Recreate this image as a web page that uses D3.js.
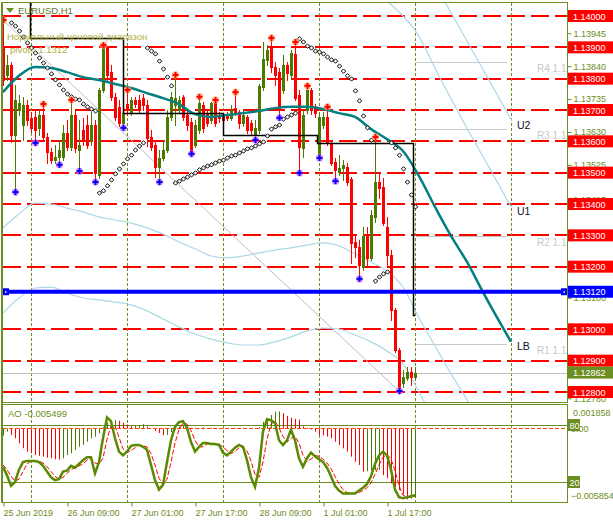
<!DOCTYPE html>
<html><head><meta charset="utf-8">
<script src="https://cdn.jsdelivr.net/npm/d3@7"></script>
<style>body{margin:0;background:#fff}svg{display:block}text{font-family:"Liberation Sans",Arial,sans-serif}</style>
</head><body><svg id="c" width="613" height="523"></svg>
<script>
// ---------- DATA ----------
const opens=[1.13898,1.13812,1.13844,1.13620,1.13700,1.13652,1.13716,1.13675,1.13678,1.13643,
1.13684,1.13614,1.13566,1.13540,1.13550,1.13550,1.13627,1.13582,1.13684,1.13572,
1.13636,1.13652,1.13604,1.13652,1.13493,1.13764,1.13898,1.13821,1.13742,1.13710,
1.13659,1.13719,1.13690,1.13732,1.13732,1.13738,1.13716,1.13614,1.13588,1.13518,
1.13547,1.13572,1.13678,1.13716,1.13700,1.13742,1.13684,1.13662,1.13588,1.13636,
1.13716,1.13690,1.13668,1.13726,1.13684,1.13684,1.13681,1.13675,1.13706,1.13694,
1.13659,1.13678,1.13659,1.13620,1.13636,1.13773,1.13860,1.13898,1.13837,1.13821,
1.13764,1.13844,1.13812,1.13879,1.13748,1.13579,1.13700,1.13764,1.13710,1.13556,
1.13652,1.13678,1.13595,1.13534,1.13502,1.13515,1.13518,1.13480,1.13279,1.13263,
1.13199,1.13301,1.13228,1.13359,1.13470,1.13454,1.13327,1.13237,1.13062,1.12934,
1.12829,1.12845,1.12864,1.12848];
const highs=[1.13987,1.13876,1.13853,1.13780,1.13748,1.13742,1.13732,1.13694,1.13700,1.13700,
1.13719,1.13627,1.13579,1.13588,1.13604,1.13652,1.13668,1.13732,1.13700,1.13668,
1.13675,1.13684,1.13694,1.13668,1.13770,1.13907,1.13904,1.13844,1.13754,1.13732,
1.13716,1.13764,1.13742,1.13742,1.13748,1.13751,1.13732,1.13636,1.13604,1.13572,
1.13604,1.13700,1.13757,1.13812,1.13745,1.13748,1.13700,1.13675,1.13668,1.13742,
1.13726,1.13700,1.13726,1.13732,1.13694,1.13690,1.13694,1.13716,1.13757,1.13700,
1.13700,1.13684,1.13668,1.13668,1.13783,1.13917,1.13907,1.13930,1.13853,1.13834,
1.13876,1.13853,1.13892,1.13917,1.13764,1.13700,1.13777,1.13770,1.13719,1.13694,
1.13694,1.13710,1.13604,1.13547,1.13556,1.13540,1.13531,1.13486,1.13301,1.13285,
1.13327,1.13327,1.13381,1.13614,1.13502,1.13483,1.13359,1.13253,1.13068,1.12941,
1.12870,1.12880,1.12880,1.12880];
const lows=[1.13780,1.13796,1.13598,1.13438,1.13684,1.13604,1.13652,1.13630,1.13595,1.13620,
1.13604,1.13531,1.13531,1.13531,1.13525,1.13540,1.13572,1.13572,1.13566,1.13505,
1.13588,1.13579,1.13588,1.13470,1.13483,1.13757,1.13796,1.13732,1.13668,1.13649,
1.13643,1.13684,1.13684,1.13710,1.13690,1.13700,1.13585,1.13572,1.13486,1.13470,
1.13540,1.13566,1.13668,1.13652,1.13690,1.13668,1.13636,1.13560,1.13582,1.13627,
1.13630,1.13649,1.13659,1.13649,1.13662,1.13659,1.13668,1.13668,1.13684,1.13643,
1.13649,1.13627,1.13620,1.13604,1.13627,1.13764,1.13844,1.13821,1.13780,1.13675,
1.13754,1.13796,1.13802,1.13732,1.13499,1.13550,1.13690,1.13687,1.13678,1.13547,
1.13643,1.13588,1.13525,1.13473,1.13493,1.13477,1.13461,1.13212,1.13231,1.13161,
1.13189,1.13199,1.13221,1.13343,1.13419,1.13333,1.13205,1.13030,1.12928,1.12803,
1.12816,1.12838,1.12822,1.12838];
const closes=[1.13796,1.13844,1.13620,1.13732,1.13722,1.13716,1.13668,1.13643,1.13636,1.13684,
1.13614,1.13566,1.13540,1.13550,1.13572,1.13627,1.13582,1.13684,1.13579,1.13588,
1.13604,1.13588,1.13652,1.13499,1.13764,1.13901,1.13812,1.13742,1.13678,1.13659,
1.13690,1.13700,1.13732,1.13719,1.13700,1.13716,1.13611,1.13582,1.13518,1.13547,
1.13572,1.13678,1.13742,1.13738,1.13732,1.13678,1.13652,1.13566,1.13652,1.13722,
1.13643,1.13659,1.13722,1.13659,1.13675,1.13668,1.13675,1.13700,1.13694,1.13659,
1.13684,1.13636,1.13636,1.13643,1.13777,1.13863,1.13892,1.13837,1.13812,1.13700,
1.13844,1.13818,1.13882,1.13738,1.13582,1.13684,1.13764,1.13700,1.13690,1.13678,
1.13678,1.13595,1.13531,1.13509,1.13515,1.13525,1.13470,1.13276,1.13263,1.13205,
1.13298,1.13228,1.13365,1.13470,1.13451,1.13339,1.13237,1.13062,1.12934,1.12813,
1.12848,1.12864,1.12848,1.12862];

const sar=[null,null,1.13978,1.13968,1.13952,1.13933,1.13914,1.13898,1.13882,1.13866,1.13850,1.13834,1.13815,1.13796,1.13780,1.13764,1.13751,1.13742,1.13735,1.13732,1.13719,1.13710,1.13703,1.13697,
1.13435,1.13442,1.13458,1.13477,1.13496,1.13512,1.13528,1.13544,1.13556,1.13572,1.13585,1.13595,
1.13898,1.13888,1.13879,1.13856,1.13831,1.13805,1.13777,
1.13467,1.13473,1.13480,1.13486,1.13493,1.13499,1.13509,1.13515,1.13521,1.13525,1.13531,1.13537,1.13540,1.13547,1.13553,1.13556,1.13563,1.13569,1.13576,1.13579,1.13585,1.13592,1.13598,1.13617,1.13639,1.13646,1.13652,1.13671,1.13678,1.13684,1.13690,
1.13927,1.13917,1.13904,1.13898,1.13888,1.13885,1.13879,1.13869,1.13860,1.13856,1.13840,1.13824,1.13809,1.13799,1.13761,1.13729,1.13681,1.13643,1.13604,
1.13154,1.13167,1.13177,1.13183,
1.13595,1.13579,1.13556,1.13512,1.13470,1.13429,1.13391];

const upFractals=[0,10,17,25,31,43,49,53,58,67,73,76,81,93];
const downFractals=[3,8,14,19,23,30,39,47,63,69,74,79,83,89,99];

const lineIdx=[0,4,8,12,16,20,24,28,32,36,40,44,48,52,56,60,64,68,72,76,80,84,88,92,96,100,104,108,112,116,120,124,127];
const tealMA=[1.13757,1.13809,1.13837,1.13834,1.13821,1.13805,1.13796,1.13783,1.13770,1.13754,1.13738,1.13719,1.13687,1.13678,1.13684,1.13690,1.13697,1.13706,1.13710,1.13710,1.13703,1.13690,1.13678,1.13639,1.13607,1.13569,1.13489,1.13391,1.13298,1.13215,1.13119,1.13027,1.12960];
const upperBand=[1.13324,1.13368,1.13403,1.13400,1.13387,1.13375,1.13359,1.13349,1.13339,1.13324,1.13304,1.13279,1.13257,1.13234,1.13228,1.13234,1.13244,1.13253,1.13260,1.13269,1.13276,1.13266,1.13241,1.13215,1.13186,1.13135,1.13036,1.12947,1.12858,1.12775,1.12680,1.12590,1.12520];
const lowerBand=[1.13052,1.13100,1.13132,1.13135,1.13116,1.13100,1.13094,1.13087,1.13078,1.13059,1.13033,1.13008,1.12985,1.12969,1.12957,1.12950,1.12950,1.12960,1.12976,1.12995,1.13004,1.13001,1.12982,1.12960,1.12931,1.12890,1.12800,1.12704,1.12610,1.12520,1.12430,1.12340,1.12270];

const u2Bars=[110.5,127.25], u2Prices=[1.14045,1.13665];
const u1Bars=[96.25,99.25,103,109.25,116.25,121.75,127], u1Prices=[1.14045,1.14010,1.13955,1.13802,1.13636,1.13512,1.13391];
const trendBars=[0,99], trendPrices=[1.13987,1.12803];
const stepStarts=[-2,6.75,30,55,78.5,102.5], stepLevels=[1.14150,1.13930,1.13690,1.13620,1.13595,1.13046];

const levels=[1.140,1.139,1.138,1.137,1.136,1.135,1.134,1.133,1.132,1.130,1.129,1.128];
const priceTicks=[1.13945,1.13840,1.13735,1.13630,1.13525,1.13415,1.13100,1.12780];
const pivotLevel=1.13120, bidPrice=1.12862;
const rNames=["R4 1.13853","R3 1.13639","R2 1.13298","R1 1.12953"], rLevels=[1.13853,1.13639,1.13298,1.12953];
const tickIdx=[0,16,32,48,64,80,96];
const timeLabels=["25 Jun 2019","26 Jun 09:00","27 Jun 01:00","27 Jun 17:00","28 Jun 09:00","1 Jul 01:00","1 Jul 17:00"];
const daySep=[7,31,55,79,103,127];

const aoVals=[-0.00058,-0.00026,-0.00053,-0.00079,-0.00119,-0.00158,-0.00185,-0.00198,-0.00212,-0.00219,-0.00225,-0.00233,-0.00238,-0.00246,-0.00248,-0.00238,-0.00212,-0.00198,-0.00172,-0.00145,-0.00132,-0.00106,-0.00079,-0.00066,-0.00039,
0.00010,0.00045,0.00055,0.00065,0.00060,0.00045,0.00030,0.00018,0.00020,0.00027,0.00033,0.00015,0.00000,-0.00020,-0.00037,-0.00055,-0.00052,-0.00030,-0.00010,0.00015,0.00025,0.00020,0.00005,
-0.00005,0.00003,0.00008,0.00004,0.00006,0.00002,-0.00004,-0.00006,-0.00003,0.00002,0.00005,0.00003,0.00001,-0.00002,-0.00001,0.00002,0.00010,
0.00053,0.00080,0.00106,0.00133,0.00135,0.00120,0.00100,0.00085,0.00075,0.00070,0.00015,
0.00005,-0.00008,-0.00026,-0.00053,-0.00055,-0.00066,-0.00079,-0.00106,-0.00132,-0.00159,-0.00185,-0.00225,-0.00265,-0.00291,
-0.00345,-0.00340,-0.00335,-0.00332,-0.00330,-0.00371,-0.00397,-0.00437,-0.00464,-0.00490,-0.00524,-0.00565,-0.00558,-0.005499];
const stMain=[36,27,16,20,33,41,42,42,42,41,37,31,25,22,23,31,32,37,35,39,43,46,46,29,41,66,88,84,66,52,48,52,58,59,59,57,54,38,22,12,17,41,64,78,83,84,77,62,52,57,61,61,60,60,59,51,48,52,56,59,57,43,25,15,35,73,86,85,82,64,59,64,75,64,45,36,45,51,47,44,41,35,26,16,11,8,8,8,8,11,14,18,26,39,48,52,48,33,12,4,3,4,5,6];
const stSignal=[38,33,26,21,23,31,39,42,42,42,40,36,31,26,23,25,29,33,35,37,39,43,45,40,39,45,65,79,79,67,55,51,53,56,59,58,57,50,38,24,17,23,41,61,75,82,81,74,64,57,57,60,61,60,60,57,53,50,52,56,57,53,42,28,25,41,65,81,84,77,68,62,66,68,61,48,42,44,48,47,44,40,34,26,18,12,9,8,8,9,11,14,19,28,38,46,49,44,32,16,6,4,4,5];
const aoMax=0.001858, aoMin=-0.005854;
const stLevels=[80,20];

// ---------- DRAW ----------
const olive="#6b8e23", bull="#4b7a00", bear="#ff0000";
const svg=d3.select("#c");
const x=d3.scaleLinear().domain([0,103]).range([3,415]);
const y=d3.scaleLinear().domain([1.128,1.140]).range([392,16]);
const yA=d3.scaleLinear().domain([aoMin,aoMax]).range([502,405]);
const yS=d3.scaleLinear().domain([0,100]).range([501,406]);

const defs=svg.append("defs");
defs.append("clipPath").attr("id","cm").append("rect").attr("x",3).attr("y",3).attr("width",564).attr("height",399);
defs.append("clipPath").attr("id","ca").append("rect").attr("x",3).attr("y",405).attr("width",564).attr("height",97);

const gm=svg.append("g").attr("clip-path","url(#cm)");
gm.selectAll(".lv").data(levels).enter().append("line")
 .attr("x1",3).attr("x2",567).attr("y1",d=>Math.round(y(d))).attr("y2",d=>Math.round(y(d)))
 .attr("stroke","#ff0000").attr("stroke-width",2).attr("stroke-dasharray","18,6");
gm.selectAll(".sep").data(daySep).enter().append("line")
 .attr("x1",d=>x(d)+0.5).attr("x2",d=>x(d)+0.5).attr("y1",3).attr("y2",402)
 .attr("stroke",olive).attr("stroke-dasharray","3,2");
gm.append("line").attr("x1",3).attr("x2",567).attr("y1",Math.round(y(bidPrice))+0.5).attr("y2",Math.round(y(bidPrice))+0.5).attr("stroke","#c0c0c0");
rLevels.forEach((v,k)=>{
  const yy=Math.round(y(v))+0.5;
  gm.append("line").attr("x1",x(103.25)).attr("x2",x(126)).attr("y1",yy).attr("y2",yy).attr("stroke","#c8c8c8");
  gm.append("text").attr("x",537).attr("y",yy+9).attr("font-size",10).attr("fill","#c8c8c8").text(rNames[k]);
});
const ln=(arr)=>d3.line().x((d,i)=>x(lineIdx[i])).y(d=>y(d)).curve(d3.curveMonotoneX)(arr);
gm.append("path").attr("d",ln(upperBand)).attr("fill","none").attr("stroke","#add8e6").attr("stroke-width",1.2);
gm.append("path").attr("d",ln(lowerBand)).attr("fill","none").attr("stroke","#add8e6").attr("stroke-width",1.2);
gm.append("line").attr("x1",x(trendBars[0])).attr("y1",y(trendPrices[0])).attr("x2",x(trendBars[1])).attr("y2",y(trendPrices[1]))
 .attr("stroke","#bdbdbd").attr("stroke-width",1);
const pl=(bs,ps)=>d3.line().x((d,i)=>x(bs[i])).y(d=>y(d)).curve(d3.curveMonotoneX)(ps);
gm.append("path").attr("d",pl(u2Bars,u2Prices)).attr("fill","none").attr("stroke","#add8e6").attr("stroke-width",1.2);
gm.append("path").attr("d",pl(u1Bars,u1Prices)).attr("fill","none").attr("stroke","#add8e6").attr("stroke-width",1.2);

const cg=gm.append("g");
opens.forEach((o,i)=>{
  const c=closes[i], up=c>=o, col=up?bull:bear, cx=Math.round(x(i));
  cg.append("line").attr("x1",cx+0.5).attr("x2",cx+0.5).attr("y1",Math.round(y(highs[i]))).attr("y2",Math.round(y(lows[i]))+1).attr("stroke",col);
  const t=Math.round(y(Math.max(o,c))), b=Math.round(y(Math.min(o,c)));
  cg.append("rect").attr("x",cx-1).attr("y",t).attr("width",3).attr("height",Math.max(1,b-t+1)).attr("fill",col);
});
gm.append("path").attr("d",ln(tealMA)).attr("fill","none").attr("stroke","#008080").attr("stroke-width",2.5);
(function(){
  let p="M"+x(stepStarts[0])+","+(Math.round(y(stepLevels[0]))+0.5);
  for(let k=1;k<stepStarts.length;k++){p+="H"+(Math.round(x(stepStarts[k]))+0.5)+"V"+(Math.round(y(stepLevels[k]))+0.5);}
  p+="H"+x(103);
  gm.append("path").attr("d",p).attr("fill","none").attr("stroke","#000").attr("stroke-width",1.5);
})();
sar.forEach((v,i)=>{ if(v==null) return;
  const cx=x(i)+0.5, cy=y(v);
  gm.append("path").attr("d",`M${cx},${cy-2.2}L${cx+2.2},${cy}L${cx},${cy+2.2}L${cx-2.2},${cy}Z`).attr("fill","#fff").attr("stroke","#000").attr("stroke-width",1);
});
function cross(g,cx,cy,col,halo){
  g.append("circle").attr("cx",cx).attr("cy",cy).attr("r",3.6).attr("fill",halo).attr("opacity",0.75);
  g.append("rect").attr("x",cx-3).attr("y",cy-1).attr("width",6).attr("height",2).attr("fill",col);
  g.append("rect").attr("x",cx-1).attr("y",cy-3).attr("width",2).attr("height",6).attr("fill",col);
}
upFractals.forEach(i=>cross(gm,x(i)+0.5,y(highs[i]),"#ff0000","#ffb070"));
downFractals.forEach(i=>cross(gm,x(i)+0.5,y(lows[i]),"#0000ff","#e070ff"));
const yp=y(pivotLevel);
gm.append("line").attr("x1",3).attr("x2",567).attr("y1",yp).attr("y2",yp).attr("stroke","#0000ff").attr("stroke-width",4);
gm.append("rect").attr("x",3).attr("y",yp-3.5).attr("width",6).attr("height",7).attr("fill","#0000ff");
gm.append("rect").attr("x",5).attr("y",yp-0.5).attr("width",1.5).attr("height",1.5).attr("fill","#fff");
gm.append("rect").attr("x",561).attr("y",yp-3.5).attr("width",6).attr("height",7).attr("fill","#0000ff");
gm.append("rect").attr("x",563.5).attr("y",yp-0.5).attr("width",1.5).attr("height",1.5).attr("fill","#fff");
[["U2",u2Prices[1]],["U1",u1Prices[u1Prices.length-1]],["LB",tealMA[tealMA.length-1]]].forEach(d=>{
  gm.append("text").attr("x",517).attr("y",y(d[1])+8).attr("font-size",10.5).attr("fill","#10102a").text(d[0]);
});
svg.append("path").attr("d","M6,8L14,8L10,13Z").attr("fill",olive);
svg.append("text").attr("x",18).attr("y",14).attr("font-size",9.5).attr("fill","#5f7a2a").text("EURUSD,H1");
svg.append("text").attr("x",7).attr("y",40).attr("font-size",9.5).attr("fill","#b0b048").text("Нормальный ценовой диапазон");
svg.append("text").attr("x",10).attr("y",53).attr("font-size",9.5).attr("fill","#b0b048").text("pivot= 1.1312");

// ---------- AO panel ----------
const ga=svg.append("g").attr("clip-path","url(#ca)");
ga.selectAll(".sep").data(daySep).enter().append("line")
 .attr("x1",d=>x(d)+0.5).attr("x2",d=>x(d)+0.5).attr("y1",405).attr("y2",502)
 .attr("stroke",olive).attr("stroke-dasharray","3,2");
stLevels.forEach(v=>ga.append("line").attr("x1",3).attr("x2",567).attr("y1",Math.round(yS(v))+0.5).attr("y2",Math.round(yS(v))+0.5).attr("stroke",olive));
const y0=Math.round(yA(0))+0.5;
aoVals.forEach((v,i)=>{
  const col=(i===0||v>aoVals[i-1])?bull:bear;
  ga.append("line").attr("x1",x(i)+0.5).attr("x2",x(i)+0.5).attr("y1",y0).attr("y2",yA(v)).attr("stroke",col);
});
ga.append("line").attr("x1",3).attr("x2",567).attr("y1",y0).attr("y2",y0).attr("stroke","#ff4500").attr("stroke-dasharray","4,2");
ga.append("path").attr("d",d3.line().x((d,i)=>x(i)).y(d=>yS(d))(stSignal)).attr("fill","none").attr("stroke","#ff0000").attr("stroke-width",1).attr("stroke-dasharray","5,2");
ga.append("path").attr("d",d3.line().x((d,i)=>x(i)).y(d=>yS(d))(stMain)).attr("fill","none").attr("stroke","#5a8a00").attr("stroke-width",2.5);
svg.append("text").attr("x",8).attr("y",417).attr("font-size",9.5).attr("fill",olive).text("AO -0.005499");

svg.append("rect").attr("x",2.5).attr("y",2.5).attr("width",565).attr("height",400).attr("fill","none").attr("stroke",olive);
svg.append("rect").attr("x",2.5).attr("y",404.5).attr("width",565).attr("height",98).attr("fill","none").attr("stroke",olive);
svg.append("line").attr("x1",2).attr("x2",2).attr("y1",2).attr("y2",503).attr("stroke",olive).attr("stroke-width",2);

const ax=svg.append("g").attr("transform","translate(567.5,0)")
 .call(d3.axisRight(y).tickValues(priceTicks).tickFormat(d3.format(".5f")).tickSize(4).tickPadding(2));
ax.select(".domain").remove();
ax.selectAll("line").attr("stroke",olive);
ax.selectAll("text").attr("fill",olive).attr("font-size",9).attr("font-family","Liberation Sans, Arial, sans-serif");
function tag(v,fill){
  const yy=y(v);
  svg.append("rect").attr("x",568).attr("y",yy-6).attr("width",45).attr("height",12).attr("fill",fill);
  svg.append("text").attr("x",573).attr("y",yy+3.5).attr("font-size",9).attr("fill","#fff").text(d3.format(".5f")(v));
}
levels.forEach(v=>tag(v,"#ff0000"));
tag(pivotLevel,"#0000ff");
tag(bidPrice,olive);

svg.append("text").attr("x",573).attr("y",416).attr("font-size",9).attr("fill",olive).text(d3.format(".6f")(aoMax));
svg.append("text").attr("x",571).attr("y",499).attr("font-size",9).attr("fill",olive).text(d3.format(".6f")(aoMin));
svg.append("text").attr("x",571).attr("y",432).attr("font-size",9).attr("fill",olive).text("0.00");
stLevels.forEach(v=>{
  const yy=yS(v);
  svg.append("rect").attr("x",568).attr("y",yy-6).attr("width",12).attr("height",12).attr("fill",olive);
  svg.append("text").attr("x",569.5).attr("y",yy+3.5).attr("font-size",9).attr("fill","#fff").text(v);
});

const tx=svg.append("g").attr("transform","translate(0,502.5)")
 .call(d3.axisBottom(x).tickValues(tickIdx).tickFormat((d,i)=>timeLabels[i]).tickSize(4).tickPadding(3));
tx.select(".domain").remove();
tx.selectAll("line").attr("stroke",olive).attr("transform","translate(0.5,0)");
tx.selectAll("text").attr("text-anchor","start").attr("fill",olive).attr("font-size",9).attr("font-family","Liberation Sans, Arial, sans-serif");
</script></body></html>
